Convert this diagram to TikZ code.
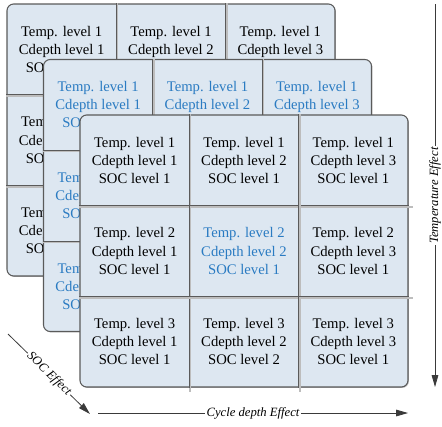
\documentclass[tikz,border=0pt]{standalone}
\usepackage{fontspec}
\setmainfont{Liberation Serif}
\usepackage{tikz}
\usetikzlibrary{
arrows.meta,
calc,
shadows
}
\definecolor{SOCFill}{HTML}{DDE7F1}
\definecolor{SOCEdge}{HTML}{5A5A5A}
\definecolor{SOCBlue}{HTML}{2A7BC2}
\definecolor{SOCGrid}{HTML}{BDBDBD}
\definecolor{SOCLine}{HTML}{3A3A3A}
\tikzset{
layerbox/.style={draw=SOCEdge, fill=SOCFill, line width=0.8pt, rounded corners=5pt,
  minimum width=246pt, minimum height=204pt, inner sep=0pt,
  drop shadow={shadow xshift=0.7pt, shadow yshift=-0.7pt, fill=black!50, opacity=0.5}},
celltext/.style={align=center, inner sep=0pt, font=\fontsize{11}{13.6}\selectfont},
gridline/.style={draw=SOCEdge, line width=0.7pt},
gridhi/.style={draw=SOCGrid, line width=1.4pt},
effarrow/.style={-{Stealth[length=9pt, width=5pt, inset=0pt]}, draw=SOCLine, line width=0.6pt},
efflabel/.style={fill=white, inner sep=1pt, font=\fontsize{9.5}{11}\selectfont\itshape}
}

\begin{document}
\begin{tikzpicture}[x=0.75pt, y=-0.75pt]
\useasboundingbox (0,0) rectangle (442,426);

% back and middle layers
\foreach \l/\x/\y/\tc/\s in {0/7/4/black/3, 1/43.5/59.5/SOCBlue/2}{
  \node[layerbox] (lay\l) at ({\x+164},{\y+136}) {};
  \foreach \k in {1,2}{
    \draw[gridhi] ($(lay\l.north west)!\k/3!(lay\l.north east)+(1.2,0)$) -- ($(lay\l.south west)!\k/3!(lay\l.south east)+(1.2,0)$);
    \draw[gridhi] ($(lay\l.north west)!\k/3!(lay\l.south west)+(0,1.2)$) -- ($(lay\l.north east)!\k/3!(lay\l.south east)+(0,1.2)$);
    \draw[gridline] ($(lay\l.north west)!\k/3!(lay\l.north east)$) -- ($(lay\l.south west)!\k/3!(lay\l.south east)$);
    \draw[gridline] ($(lay\l.north west)!\k/3!(lay\l.south west)$) -- ($(lay\l.north east)!\k/3!(lay\l.south east)$);
  }
  \foreach \r in {1,2,3}
    \foreach \c in {1,2,3}
      \node[celltext, text=\tc] (c\l\r\c) at ({\x+109.33*\c-54.67},{\y+90.67*\r-45.33})
        {Temp. level \r\\Cdepth level \c\\SOC level \s};
}

% front layer
\node[layerbox] (lay2) at (244,251) {};
\foreach \k in {1,2}{
  \draw[gridhi] ($(lay2.north west)!\k/3!(lay2.north east)+(1.2,0)$) -- ($(lay2.south west)!\k/3!(lay2.south east)+(1.2,4)$);
  \draw[gridhi] ($(lay2.north west)!\k/3!(lay2.south west)+(0,1.2)$) -- ($(lay2.north east)!\k/3!(lay2.south east)+(4,1.2)$);
  \draw[gridline] ($(lay2.north west)!\k/3!(lay2.north east)$) -- ($(lay2.south west)!\k/3!(lay2.south east)$);
  \draw[gridline] ($(lay2.north west)!\k/3!(lay2.south west)$) -- ($(lay2.north east)!\k/3!(lay2.south east)$);
}
\foreach \r/\c/\tc/\s in {1/1/black/1, 1/2/black/1, 1/3/black/1,
                          2/1/black/1, 2/2/SOCBlue/1, 2/3/black/1,
                          3/1/black/1, 3/2/black/2, 3/3/black/1}
  \node[celltext, text=\tc] (c2\r\c) at ({80+109.33*\c-54.67},{115+90.67*\r-45.33})
    {Temp. level \r\\Cdepth level \c\\SOC level \s};

% effect arrows
\coordinate (tempA) at (435,4);
\coordinate (tempB) at (435,387);
\coordinate (cycA) at (98,413);
\coordinate (cycB) at (408,413);
\coordinate (socA) at (8,334);
\coordinate (socB) at (90,414);

\draw[effarrow] (tempA) -- node[efflabel, rotate=90] (tempL) {Temperature Effect} (tempB);
\draw[effarrow] (cycA) -- node[efflabel] (cycL) {Cycle depth Effect} (cycB);
\draw[effarrow] (socA) -- node[efflabel, sloped] (socL) {SOC Effect} (socB);
\end{tikzpicture}
\end{document}
